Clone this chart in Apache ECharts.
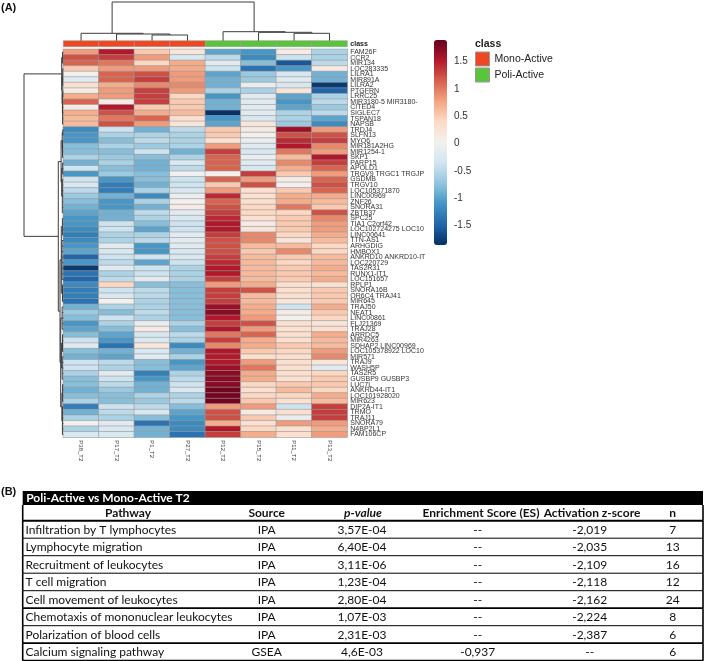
<!DOCTYPE html>
<html>
<head>
<meta charset="utf-8">
<script src="https://cdn.jsdelivr.net/npm/echarts@6/dist/echarts.min.js"></script>
<style>
  html, body { margin: 0; padding: 0; background: #fff; }
  #chart { width: 709px; height: 661px; }
</style>
</head>
<body>
<div id="chart"></div>
<script>
// ── heatmap labels ──
const samples = ["P38_T2", "P17_T2", "P1_T2", "P27_T2", "P12_T2", "P15_T2", "P11_T2", "P13_T2"];
const sampleClass = ["Mono-Active", "Mono-Active", "Mono-Active", "Mono-Active",
                     "Poli-Active", "Poli-Active", "Poli-Active", "Poli-Active"];
const classNames = ["Mono-Active", "Poli-Active"];
const genes = [
  "FAM26F", "CCR2", "MIR134", "LOC283335", "LILRA1", "MIR891A", "LILRA2", "PTGFRN", "LRRC25",
  "MIR3180-5 MIR3180-", "CITED4", "SIGLEC7", "TSPAN18", "NAPSB", "TRDJ4", "SLFN13", "MYO6",
  "MIR181A2HG", "MIR1254-1", "SKP1", "PARP15", "APOLD1", "TRGV9 TRGC1 TRGJP", "GSDMB", "TRGV10",
  "LOC105371870", "LINC00969", "ZNF26", "SNORA31", "ZBTB37", "SPC25", "TIA1 C2orf42",
  "LOC102724275 LOC10", "LINC00641", "TTN-AS1", "ARHGDIG", "HMBOX1", "ANKRD10 ANKRD10-IT",
  "LOC220729", "TAS2R31", "RUNX1-IT1", "LOC151657", "RPLP1", "SNORA16B", "OR6C4 TRAJ41", "MIR645",
  "TRAJ50", "NEAT1", "LINC00861", "FLJ21369", "TRAJ28", "ARRDC5", "MIR4263", "SDHAP2 LINC00969",
  "LOC105378922 LOC10", "MIR571", "TRAJ9", "WASH5P", "TAS2R5", "GUSBP9 GUSBP3", "LUC7L",
  "ANKRD44-IT1", "LOC101928020", "MIR623", "DIP2A-IT1", "TRMO", "TRAJ11", "SNORA79", "N4BP2L1",
  "FAM106CP"
];

// ── scaled expression, one array per sample (row order = genes) ──
const p38 = [0.8, 1.2, 1.1, 0.5, 0.0, -0.2, 0.3, 0.1, 0.7, 1.1, 0.1, 0.7, 0.6, 0.6,
  -1.2, -1.1, -1.1, -0.8, -0.8, -0.6, -0.9, -0.4, -1.1, -0.4,
  -0.3, -0.5, -0.7, -0.8, -0.9, -1.0, -1.1, -1.1, -1.2, -1.3, -1.2, -1.1, -1.0, -1.5, -1.1, -1.8,
  -1.4, -1.5, -1.2, -1.3, -1.3, -1.4, -0.9, -0.7, -0.8,
  -1.1, -1.0, -0.8, -0.4, -0.2, -0.8, -0.9, -0.4, -0.4, -0.6, -0.8, -0.8, -0.9, -0.8, -0.6, -1.3,
  -0.9, -0.6, 0.0, -0.6, -0.3];
const p17 = [1.5, 1.3, 1.0, 0.8, 1.1, 1.1, 0.7, 0.8, 0.8, 0.1, 1.5, 1.2, 1.0, 1.2,
  -0.4, -0.6, -0.8, -0.6, -0.8, -0.7, -0.6, -0.8, -0.7, -1.1,
  -1.3, -1.3, -0.9, -1.1, -1.1, -0.9, -0.9, -0.4, -0.4, -0.6, -0.6, -0.2, -0.3, -0.4, -0.5, -0.2,
  -0.6, -0.5, 0.4, -0.4, -0.3, 0.0, -0.6, -0.8, -0.4,
  -0.6, -0.8, -1.0, -1.1, -1.4, -0.9, -1.0, -0.5, -0.6, -0.2, -0.4, -0.5, -0.7, -0.8, -0.8, -0.4,
  -0.5, -0.6, -0.2, -0.3, -0.3];
const p1 = [0.5, 0.8, 0.4, 0.8, 1.2, 1.3, 0.9, 1.3, 1.3, 1.3, 0.5, 0.7, 1.1, 0.8,
  -0.9, -0.6, -0.5, -0.7, -0.4, -0.8, -0.9, -0.9, -0.8, -0.8,
  -0.9, -0.6, -1.2, -0.6, -0.9, -0.5, -0.6, -0.8, -1.0, -0.6, -0.5, -1.1, -1.1, -0.4, -1.0, -0.4,
  -0.4, -0.2, -0.8, -0.5, -0.5, -0.6, -0.6, -0.5, -0.6,
  -0.1, 0.1, -0.3, -0.3, 0.2, -0.3, -0.2, -0.8, -0.8, -1.3, -1.1, -0.9, -0.9, -0.6, -0.7, -0.5,
  -0.3, -0.8, -1.4, -0.9, -0.9];
const p27 = [0.2, -0.3, 0.7, 0.7, 0.8, 0.8, 0.9, 0.8, 0.4, 0.5, 0.5, 0.6, 0.3, 0.2,
  -0.5, -0.6, -0.6, -0.6, -0.9, -0.6, -0.3, -0.5, 0.0, -0.4,
  -0.4, -0.3, -0.1, 0.0, 0.1, -0.2, -0.3, -0.4, -0.4, -0.2, -0.2, -0.2, -0.3, -0.3, -0.4, -0.6,
  -0.6, -0.6, -0.8, -0.8, -0.8, -0.8, -0.8, -0.8, -0.8,
  -0.6, -0.8, -0.5, -0.6, -1.2, -0.9, -0.6, -1.1, -1.0, -0.6, -0.5, -0.4, -0.3, -0.6, -0.5, -0.8,
  -1.0, -1.1, -1.2, -1.2, -1.4];
const p12 = [-1.0, -0.5, -0.2, -0.4, -1.0, -0.9, -0.9, -0.6, -1.1, -0.9, -0.9, -1.85, -1.1, -1.0,
  0.5, 0.5, 0.3, 0.8, 1.3, 1.1, 1.1, 1.1, 0.0, 1.1,
  0.5, 0.8, 1.4, 1.1, 1.2, 1.3, 1.4, 1.5, 1.5, 1.3, 1.2, 1.2, 1.2, 1.3, 1.4, 1.5,
  1.5, 1.3, 0.8, 1.3, 1.3, 1.3, 1.6, 1.7, 1.5,
  1.3, 1.5, 1.0, 1.3, 0.9, 1.5, 1.5, 1.5, 1.6, 1.7, 1.7, 1.7, 1.8, 1.8, 1.8, 0.8,
  1.2, 1.2, 0.7, 1.5, 1.3];
const p15 = [-1.1, -1.2, -0.8, -1.4, -0.7, -0.7, -0.1, -0.6, -0.2, -0.2, -0.2, -0.2, -0.3, 0.2,
  0.1, 0.0, -0.1, -0.2, -0.3, -0.1, -0.2, -0.3, 1.3, 0.8,
  1.2, 0.3, 0.3, 0.3, 0.4, 0.4, 0.3, 0.1, 0.2, 0.9, 0.9, 0.6, 0.5, 0.6, 0.6, 0.6,
  0.6, 0.6, 0.7, 1.2, 0.6, 0.6, 0.7, 0.7, 0.8,
  1.2, 0.8, 1.1, 0.7, 0.7, 0.5, 0.3, 0.8, 1.0, 0.7, 0.7, 0.4, 0.3, 0.4, 0.5, 0.8,
  0.1, 0.5, 0.3, 0.4, 0.7];
const p11 = [0.1, -0.4, -1.6, -1.1, -0.3, -0.2, -0.3, 0.2, -1.0, -1.1, -1.0, -0.6, -0.6, -0.7,
  1.6, 1.2, 1.4, 1.5, 1.0, 0.6, 0.9, 0.7, 0.5, 0.1,
  0.0, 0.5, 0.7, 0.7, 1.0, 0.4, 0.5, 0.5, 0.5, 0.4, 0.2, 0.6, 0.9, 0.5, 0.4, 0.5,
  0.5, 0.5, 0.3, 0.3, 0.3, 0.2, -0.4, 0.1, 0.0,
  0.3, 0.3, 0.3, 0.3, 0.5, 0.4, 0.3, 0.3, 0.3, 0.3, 0.3, 0.5, 0.6, 0.4, 0.3, -0.4,
  0.3, -0.1, 0.8, 0.3, 0.3];
const p13 = [-0.6, -0.6, -0.5, 0.1, -0.9, -0.9, -1.8, -1.5, -0.6, -0.5, -0.7, -0.5, -1.0, -1.2,
  0.8, 1.2, 1.3, 0.9, 0.8, 1.5, 1.3, 1.1, 0.8, 1.1,
  1.2, 1.1, 0.7, 0.6, 0.5, 1.2, 0.9, 0.8, 0.8, 0.7, 0.6, 0.4, 0.4, 0.6, 0.6, 0.7,
  0.6, 0.7, 0.3, 0.5, 0.5, 0.5, 0.7, 0.5, 0.4,
  0.2, 0.3, 0.7, 0.6, 0.6, 0.8, 0.9, 0.2, -0.2, 0.4, 0.5, 0.5, 0.4, 0.7, 0.6, 1.3,
  1.3, 1.3, 0.8, 0.7, 0.8];
const sampleValues = [p38, p17, p1, p27, p12, p15, p11, p13];

// ── dendrograms: [height, child, child, ...], numbers are leaf positions ──
const colTree = [38.7, [7.4, 0, [6.7, 1, [5.7, 2, 3]]], [9.0, 4, [8.4, 5, [7.4, 6, 7]]]];
const rowTree = [39.3,
  [1.6,
    [0.7, 0, 1, 2],
    [1.2, [0.6, 3, 4, 5, 6], [0.9, [0.5, 7, 8], [0.7, 9, 10, 11, 12, 13]]]],
  [5.0,
    [2.2,
      [1.1, [0.5, 14, 15], [0.8, 16, 17, 18, 19]],
      [1.6, [0.6, 20, 21, 22], [1.0, 23, 24, 25, 26, 27, 28, 29]]],
    [3.3,
      [2.0, [0.9, 30, 31, 32, 33], [1.3, 34, 35, 36, 37, 38, 39, 40, 41], [0.8, 42, 43, 44, 45]],
      [2.6, [1.2, 46, 47, 48, 49, 50],
            [1.7, [0.8, 51, 52, 53, 54], [1.1, 55, 56, 57, 58, 59]],
            [1.4, [0.7, 60, 61, 62, 63], [0.9, 64, 65, 66, 67, 68, 69]]]]]
];

// ── table (B) ──
const tableTitle = "Poli-Active vs Mono-Active T2";
const tableHeaders = ["Pathway", "Source", "p-value", "Enrichment Score (ES)", "Activation z-score", "n"];
const pathways = ["Infiltration by T lymphocytes", "Lymphocyte migration", "Recruitment of leukocytes",
  "T cell migration", "Cell movement of leukocytes", "Chemotaxis of mononuclear leukocytes",
  "Polarization of blood cells", "Calcium signaling pathway"];
const sources = ["IPA", "IPA", "IPA", "IPA", "IPA", "IPA", "IPA", "GSEA"];
const pValues = ["3,57E-04", "6,40E-04", "3,11E-06", "1,23E-04", "2,80E-04", "1,07E-03", "2,31E-03", "4,6E-03"];
const esScores = ["--", "--", "--", "--", "--", "--", "--", "-0,937"];
const zScores = ["-2,019", "-2,035", "-2,109", "-2,118", "-2,162", "-2,224", "-2,387", "--"];
const nGenes = [7, 13, 16, 12, 24, 8, 6, 6];

const rdbu = ["#053061", "#2166ac", "#4393c3", "#92c5de", "#d1e5f0", "#f2f0ef",
              "#fddbc7", "#f4a582", "#d6604d", "#b2182b", "#67001f"];
const classColors = ["#ef4623", "#58c53a"];

const chart = echarts.init(document.getElementById("chart"));

const heatData = [];
sampleValues.forEach((arr, c) => arr.forEach((v, r) => heatData.push([c, r, v])));

function treeSegments(node, out){
  if (typeof node === "number") return [0, node];
  const h = node[0];
  const kids = node.slice(1).map(k => treeSegments(k, out));
  kids.forEach(k => out.push([k[0], k[1], h, k[1]]));
  out.push([h, kids[0][1], h, kids[kids.length - 1][1]]);
  return [h, (kids[0][1] + kids[kids.length - 1][1]) / 2];
}
const colSegs = []; treeSegments(colTree, colSegs);
const rowSegs = []; treeSegments(rowTree, rowSegs);

// segment renderer; swap puts height on y (column tree)
function segRenderer(swap){
  return (params, api) => {
    const a = swap ? [api.value(1), api.value(0)] : [api.value(0), api.value(1)];
    const b = swap ? [api.value(3), api.value(2)] : [api.value(2), api.value(3)];
    const p1 = api.coord(a), p2 = api.coord(b);
    return { type: "line", shape: { x1: p1[0], y1: p1[1], x2: p2[0], y2: p2[1] },
             style: { stroke: "#3c3c3c", lineWidth: 1 } };
  };
}

const tableFont = "Lato, 'Liberation Sans', sans-serif";
const colX = [2.8, 244, 339.3, 455, 567, 650];
const colAlign = ["left", "center", "center", "center", "center", "center"];
const rowLineW = [1, 1, 1, 1, 1.8, 1, 1.8, 1.8];

const hidden = { show: false };
const HM = { left: 63.3, top: 49.3, width: 284, height: 388 };

const series = [
  {
    type: "heatmap", xAxisIndex: 0, yAxisIndex: 0, data: heatData,
    itemStyle: { borderColor: "#9a9a9a", borderWidth: 0.6 },
    emphasis: { disabled: true }
  },
  ...classNames.map((name, k) => ({
    type: "custom", name, xAxisIndex: 1, yAxisIndex: 1,
    itemStyle: { color: classColors[k] },
    data: samples.map((s, i) => [i, 0, sampleClass[i]]).filter(d => d[2] === name).map(d => [d[0], d[1]]),
    renderItem: (params, api) => {
      const c = api.coord([api.value(0), api.value(1)]);
      const s = api.size([1, 1]);
      return { type: "rect", shape: { x: c[0] - s[0] / 2, y: c[1] - s[1] / 2, width: s[0], height: s[1] },
               style: { fill: api.visual("color"), stroke: "#9a9a9a", lineWidth: 0.6 } };
    }
  })),
  { type: "custom", xAxisIndex: 2, yAxisIndex: 2, data: colSegs, renderItem: segRenderer(true), silent: true },
  { type: "custom", xAxisIndex: 3, yAxisIndex: 3, data: rowSegs, renderItem: segRenderer(false), silent: true },
  {
    type: "custom", xAxisIndex: 5, yAxisIndex: 5, silent: true,
    data: pathways.map((p, i) => [0, i]),
    renderItem: (params, api) => {
      const i = api.value(1);
      const yc = api.coord([0, i])[1];
      const bh = api.size([0, 1])[1];
      const x0 = params.coordSys.x, x1 = x0 + params.coordSys.width;
      const cells = [pathways[i], sources[i], pValues[i], esScores[i], zScores[i], String(nGenes[i])];
      const kids = cells.map((t, k) => ({
        type: "text",
        style: { text: t, x: api.coord([colX[k], i])[0], y: yc + 0.5, fill: "#111",
                 font: "12px " + tableFont, align: colAlign[k], textAlign: colAlign[k],
                 verticalAlign: "middle", textVerticalAlign: "middle" }
      }));
      kids.push({ type: "line", shape: { x1: x0, y1: yc + bh / 2, x2: x1, y2: yc + bh / 2 },
                  style: { stroke: "#000", lineWidth: rowLineW[i] } });
      kids.push({ type: "line", shape: { x1: x0, y1: yc - bh / 2, x2: x0, y2: yc + bh / 2 },
                  style: { stroke: "#000", lineWidth: 1.6 } });
      kids.push({ type: "line", shape: { x1: x1, y1: yc - bh / 2, x2: x1, y2: yc + bh / 2 },
                  style: { stroke: "#000", lineWidth: 1.6 } });
      return { type: "group", children: kids };
    }
  }
];

const TB = { left: 22.7, width: 680.3 };
const headerY = 512.8;
const graphic = [
  { type: "text", style: { text: "(A)", x: 1, y: 8, font: "bold 11px 'Liberation Sans', sans-serif", fill: "#111", verticalAlign: "middle", textVerticalAlign: "middle" } },
  { type: "text", style: { text: "(B)", x: 1, y: 492, font: "bold 11px 'Liberation Sans', sans-serif", fill: "#111", verticalAlign: "middle", textVerticalAlign: "middle" } },
  { type: "text", style: { text: "class", x: 475, y: 44.5, font: "bold 10.5px 'Liberation Sans', sans-serif", fill: "#222", verticalAlign: "middle", textVerticalAlign: "middle" } },
  { type: "rect", shape: { x: TB.left, y: 491, width: TB.width, height: 14 }, style: { fill: "#000" } },
  { type: "text", style: { text: tableTitle, x: TB.left + 3.5, y: 498.3, font: "bold 12px " + tableFont, fill: "#fff", verticalAlign: "middle", textVerticalAlign: "middle" } },
  { type: "line", shape: { x1: TB.left, y1: 505, x2: TB.left, y2: 520.7 }, style: { stroke: "#000", lineWidth: 1.6 } },
  { type: "line", shape: { x1: TB.left + TB.width, y1: 505, x2: TB.left + TB.width, y2: 520.7 }, style: { stroke: "#000", lineWidth: 1.6 } },
  { type: "line", shape: { x1: TB.left, y1: 520.7, x2: TB.left + TB.width, y2: 520.7 }, style: { stroke: "#000", lineWidth: 2 } }
];
const headerX = [105.3, 244, 340.3, 458.3, 569.3, 650];
tableHeaders.forEach((h, k) => graphic.push({
  type: "text",
  style: { text: h, x: TB.left + headerX[k], y: headerY,
           font: (k === 2 ? "italic bold " : "bold ") + "12px " + tableFont, fill: "#111",
           align: "center", textAlign: "center", verticalAlign: "middle", textVerticalAlign: "middle" }
}));

const option = {
  animation: false,
  backgroundColor: "#fff",
  grid: [
    { ...HM },
    { left: HM.left, top: 40.7, width: HM.width, height: 6 },
    { left: HM.left, top: 2, width: HM.width, height: 38.7 },
    { left: 24, top: HM.top, width: 39.3, height: HM.height },
    { left: 434, top: 61.7, width: 13, height: 164 },
    { left: TB.left, top: 520.7, width: TB.width, height: 140 }
  ],
  xAxis: [
    { gridIndex: 0, type: "category", data: samples, position: "bottom",
      axisLine: hidden, axisTick: hidden, splitLine: hidden,
      axisLabel: { rotate: -90, fontSize: 6, margin: 3, color: "#333", interval: 0, fontFamily: "Liberation Sans" } },
    { gridIndex: 1, type: "category", data: samples, show: false },
    { gridIndex: 2, type: "value", min: -0.5, max: 7.5, show: false },
    { gridIndex: 3, type: "value", min: 0, max: 39.3, inverse: true, show: false },
    { gridIndex: 4, type: "value", show: false, min: 0, max: 1 },
    { gridIndex: 5, type: "value", min: 0, max: TB.width, show: false }
  ],
  yAxis: [
    { gridIndex: 0, type: "category", data: genes, inverse: true, position: "right",
      axisLine: hidden, axisTick: hidden, splitLine: hidden,
      axisLabel: { fontSize: 7, margin: 3, color: "#333", interval: 0, fontFamily: "Liberation Sans" } },
    { gridIndex: 1, type: "category", data: ["class"], position: "right",
      axisLine: hidden, axisTick: hidden, splitLine: hidden,
      axisLabel: { fontSize: 7, margin: 3, color: "#222", fontWeight: "bold", fontFamily: "Liberation Sans" } },
    { gridIndex: 2, type: "value", min: 0, max: 38.7, show: false },
    { gridIndex: 3, type: "value", min: -0.5, max: 69.5, inverse: true, show: false },
    { gridIndex: 4, type: "value", min: -1.5, max: 1.5, interval: 0.5, position: "right",
      axisLine: hidden, axisTick: hidden, splitLine: hidden,
      axisLabel: { fontSize: 10, margin: 7, color: "#333", fontFamily: "Liberation Sans" } },
    { gridIndex: 5, type: "category", data: pathways, inverse: true, show: false }
  ],
  visualMap: {
    type: "continuous", min: -1.87, max: 1.87, seriesIndex: 0, calculable: false,
    orient: "vertical", left: 434, top: 40, itemWidth: 13, itemHeight: 205, padding: 0,
    text: null, showLabel: false,
    inRange: { color: rdbu }
  },
  legend: {
    data: classNames, orient: "vertical", left: 475, top: 51.5, padding: 0,
    itemWidth: 14, itemHeight: 14, itemGap: 1, icon: "rect", selectedMode: false,
    itemStyle: { borderColor: "#999", borderWidth: 1 },
    textStyle: { fontSize: 10.5, color: "#222", fontFamily: "Liberation Sans" }
  },
  graphic,
  series
};

chart.setOption(option);
</script>
</body>
</html>
